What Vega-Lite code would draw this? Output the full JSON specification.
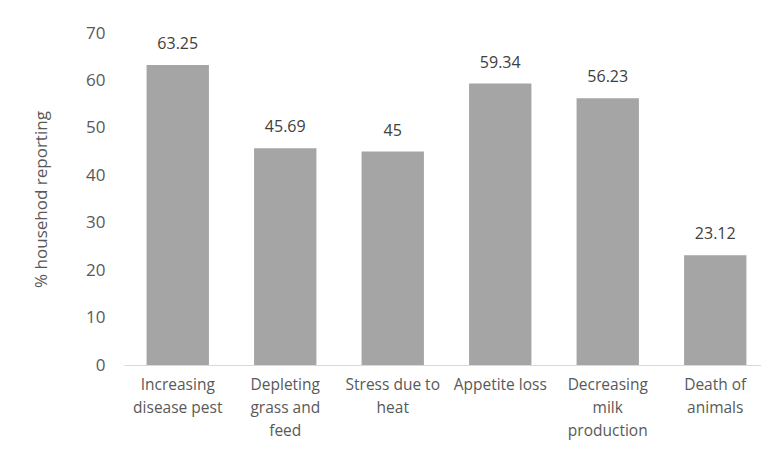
{
  "$schema": "https://vega.github.io/schema/vega-lite/v6.json",
  "width": 645,
  "height": 332,
  "autosize": {"type": "none"},
  "padding": {"left": 124, "top": 33, "right": 0, "bottom": 88},
  "background": "white",
  "config": {
    "view": {"stroke": null},
    "font": "Open Sans"
  },
  "data": {
    "values": [
      {"category": "Increasing|disease pest", "value": 63.25},
      {"category": "Depleting|grass and|feed", "value": 45.69},
      {"category": "Stress due to|heat", "value": 45},
      {"category": "Appetite loss", "value": 59.34},
      {"category": "Decreasing|milk|production", "value": 56.23},
      {"category": "Death of|animals", "value": 23.12}
    ]
  },
  "encoding": {
    "x": {
      "field": "category",
      "type": "nominal",
      "sort": null,
      "scale": {"paddingInner": 0.42, "paddingOuter": 0.21},
      "axis": {
        "title": null,
        "labelAngle": 0,
        "labelExpr": "split(datum.label, '|')",
        "labelFont": "Open Sans",
        "labelFontSize": 15.5,
        "labelColor": "#595959",
        "labelLineHeight": 23,
        "labelPadding": 12,
        "labelLimit": 200,
        "ticks": false,
        "domainColor": "#d9d9d9",
        "domainWidth": 1
      }
    },
    "y": {
      "field": "value",
      "type": "quantitative",
      "scale": {"domain": [0, 70], "nice": false},
      "axis": {
        "title": "% househod reporting",
        "titleFont": "Open Sans",
        "titleFontSize": 17,
        "titleFontWeight": "normal",
        "titleColor": "#595959",
        "titlePadding": 35,
        "values": [0, 10, 20, 30, 40, 50, 60, 70],
        "labelFont": "Open Sans",
        "labelFontSize": 17,
        "labelColor": "#595959",
        "labelPadding": 19,
        "ticks": false,
        "domain": false,
        "grid": false
      }
    }
  },
  "layer": [
    {"mark": {"type": "bar", "color": "#a5a5a5"}},
    {
      "mark": {"type": "text", "baseline": "bottom", "dy": -13, "fontSize": 16, "color": "#404040", "font": "Open Sans"},
      "encoding": {"text": {"field": "value", "type": "quantitative"}}
    }
  ]
}
